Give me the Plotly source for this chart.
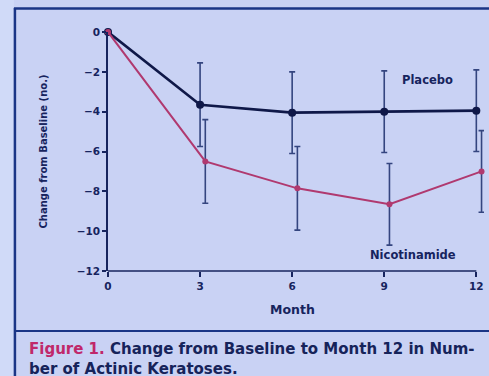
import plotly.graph_objects as go

# Mean change from baseline in number of actinic keratoses
months = [0, 3, 6, 9, 12]
month_labels = ["0", "3", "6", "9", "12"]
placebo = [0, -3.65, -4.05, -4.0, -3.95]
placebo_sd = [0, 2.1, 2.05, 2.05, 2.05]
nicotinamide = [0, -6.5, -7.85, -8.65, -7.0]
nicotinamide_sd = [0, 2.1, 2.1, 2.05, 2.05]
y_ticks = [0, -2, -4, -6, -8, -10, -12]

# small horizontal dodge so the two sets of error bars don't overlap
DODGE = 0.17
nic_x = [m + (DODGE if m > 0 else 0) for m in months]

BG = "#c9d2f4"
NAVY = "#17245e"
LINE_DARK = "#0f1848"
PINK = "#b0396f"
ERR = "#34457f"
FONT = "DejaVu Sans"

X_MAX = 12.25  # a little room past the last tick for the dodged points

fig = go.Figure()

fig.add_trace(go.Scatter(
    x=months, y=placebo, mode="lines+markers", name="Placebo",
    line=dict(color=LINE_DARK, width=2.6),
    marker=dict(color=LINE_DARK, size=8),
    error_y=dict(type="data", array=placebo_sd, color=ERR, thickness=1.6, width=3),
    cliponaxis=False,
))
fig.add_trace(go.Scatter(
    x=nic_x, y=nicotinamide, mode="lines+markers", name="Nicotinamide",
    line=dict(color=PINK, width=2),
    marker=dict(color=PINK, size=6),
    error_y=dict(type="data", array=nicotinamide_sd, color=ERR, thickness=1.6, width=3),
    cliponaxis=False,
))

fig.add_annotation(x=10.4, y=-2.4, text="Placebo", showarrow=False,
                   font=dict(family=FONT, size=11.5, color=NAVY, weight="bold"))
fig.add_annotation(x=9.95, y=-11.2, text="Nicotinamide", showarrow=False,
                   font=dict(family=FONT, size=11.5, color=NAVY, weight="bold"))

# slide frame and caption area (paper coordinates of the plot area)
PLOT_L, PLOT_R, PLOT_T, PLOT_B = 108, 108 + 368 * X_MAX / 12, 32, 271

def px_x(p):
    return (p - PLOT_L) / (PLOT_R - PLOT_L)

def px_y(p):
    return (PLOT_B - p) / (PLOT_B - PLOT_T)

shapes = [
    dict(type="rect", xref="paper", yref="paper", x0=px_x(0), x1=px_x(14),
         y0=px_y(376), y1=px_y(0), fillcolor="#d0daf8", line=dict(width=0), layer="below"),
    dict(type="line", xref="paper", yref="paper", x0=px_x(15), x1=px_x(15),
         y0=px_y(376), y1=px_y(8), line=dict(color="#1a3586", width=2.5)),
    dict(type="line", xref="paper", yref="paper", x0=px_x(14), x1=px_x(489),
         y0=px_y(8.5), y1=px_y(8.5), line=dict(color="#1a3586", width=2.5)),
    dict(type="line", xref="paper", yref="paper", x0=px_x(15), x1=px_x(489),
         y0=px_y(331), y1=px_y(331), line=dict(color="#1a3586", width=2)),
    # x axis line runs from the first to the last month only
    dict(type="line", xref="x", yref="paper", x0=months[0], x1=months[-1],
         y0=0, y1=0, line=dict(color=NAVY, width=1.6)),
]
fig.update_layout(shapes=shapes)

# x axis title, centred under the month axis
fig.add_annotation(
    x=6, xref="x", yref="paper", y=px_y(309), yanchor="middle", showarrow=False,
    text="Month", font=dict(family=FONT, size=12.5, color=NAVY, weight="bold"),
)

fig.add_annotation(
    xref="paper", yref="paper", x=px_x(27), y=px_y(359), xanchor="left", yanchor="middle",
    align="left", showarrow=False,
    font=dict(family=FONT, size=15, color="#16235a", weight="bold"),
    text=("<span style='color:#c0286a'>Figure 1.</span> Change from Baseline to Month 12 in Num-"
          "<br>ber of Actinic Keratoses."),
)

fig.update_xaxes(
    range=[0, X_MAX], tickvals=months, ticktext=month_labels,
    showline=False, showgrid=False, zeroline=False,
    ticks="outside", ticklen=5, tickcolor=NAVY, tickwidth=1.5,
    tickfont=dict(family=FONT, size=10.5, color=NAVY, weight="bold"),
)
fig.update_yaxes(
    range=[-12, 0], tickvals=y_ticks,
    showline=True, linecolor=NAVY, linewidth=1.6, showgrid=False, zeroline=False,
    ticks="outside", ticklen=4, tickcolor=NAVY, tickwidth=1.5,
    tickfont=dict(family=FONT, size=10.5, color=NAVY, weight="bold"),
    title=dict(text="Change from Baseline (no.)",
               font=dict(family=FONT, size=10, color=NAVY, weight="bold"), standoff=27),
)

fig.update_layout(
    width=489, height=376,
    margin=dict(l=PLOT_L, r=489 - PLOT_R, t=PLOT_T, b=376 - PLOT_B),
    paper_bgcolor=BG, plot_bgcolor=BG,
    showlegend=False,
)

fig.write_html("out.html")
